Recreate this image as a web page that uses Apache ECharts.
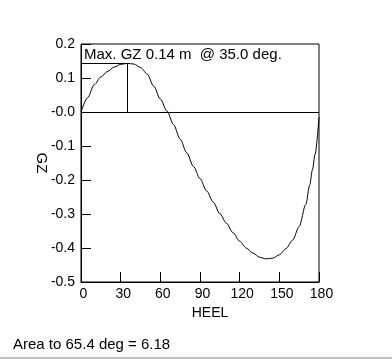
<!DOCTYPE html>
<html><head><meta charset="utf-8">
<script src="https://cdn.jsdelivr.net/npm/echarts@6/dist/echarts.min.js"></script>
<style>html,body{margin:0;padding:0;background:#fff}#c{width:392px;height:359px}</style>
</head><body><div id="c"></div>
<script>
var heel = [0,5,10,15,20,25,30,35,40,45,50,55,60,65,70,75,80,85,90,95,100,105,110,115,120,125,130,135,140,145,150,155,160,165,170,173,175,177,180];
var gz = [0,0.042,0.080,0.103,0.119,0.132,0.140,0.143,0.141,0.131,0.112,0.076,0.038,0.003,-0.037,-0.080,-0.120,-0.160,-0.196,-0.232,-0.265,-0.299,-0.327,-0.355,-0.380,-0.400,-0.415,-0.427,-0.432,-0.430,-0.420,-0.402,-0.377,-0.337,-0.272,-0.215,-0.170,-0.125,-0.015];
var yTicks = [0.2,0.1,0.0,-0.1,-0.2,-0.3,-0.4,-0.5];
var xTicks = [0,30,60,90,120,150,180];
var maxGZ = 0.14, maxAngle = 35.0, areaAngle = 65.4, areaVal = 6.18;

var pts = heel.map(function(h,i){return [h,gz[i]];});
var mi = 0; gz.forEach(function(v,i){ if(v>gz[mi]) mi=i; });
var px = heel[mi], py = gz[mi];
var FONT = '"Liberation Sans", Arial, sans-serif';
var chart = echarts.init(document.getElementById('c'), null, {renderer:'canvas'});
chart.setOption({
  animation:false,
  backgroundColor:'#fff',
  title:{text:'Max. GZ ' + maxGZ.toFixed(2) + ' m  @ ' + maxAngle.toFixed(1) + ' deg.', left:84, top:47, padding:0,
    textStyle:{fontFamily:FONT, fontSize:15, fontWeight:'normal', color:'#000'}},
  grid:{left:81, right:73, top:44, bottom:77, show:true, borderColor:'#000', borderWidth:1, containLabel:false},
  xAxis:{type:'value', min:0, max:180, interval:30,
    name:'HEEL', nameLocation:'middle', nameGap:22,
    nameTextStyle:{fontFamily:FONT, fontSize:14, color:'#000', padding:[0,0,0,20]},
    axisLine:{show:true, onZero:false, lineStyle:{color:'#000', width:1}},
    axisTick:{show:true, inside:true, length:10, lineStyle:{color:'#000'}},
    axisLabel:{fontFamily:FONT, fontSize:14, color:'#000', margin:5, padding:[0,0,0,5],
      formatter:function(v){return xTicks.indexOf(v)>=0 ? String(v) : '';}},
    splitLine:{show:false}},
  yAxis:{type:'value', min:-0.5, max:0.2, interval:0.1,
    name:'GZ', nameLocation:'middle', nameGap:28, nameRotate:-90, nameMoveOverlap:false,
    nameTextStyle:{fontFamily:FONT, fontSize:15, color:'#000', padding:[4,0,0,0]},
    axisLine:{show:true, onZero:false, lineStyle:{color:'#000', width:1}},
    axisTick:{show:true, inside:true, length:10, lineStyle:{color:'#000'}},
    axisLabel:{fontFamily:FONT, fontSize:14, color:'#000', margin:6,
      formatter:function(v){
        var r = Math.round(v*10)/10;
        var t = yTicks.filter(function(k){return Math.abs(k-r)<1e-6;});
        if(!t.length) return '';
        if(Math.abs(r)<1e-9) return '-0.0';
        return r.toFixed(1);
      }},
    splitLine:{show:false}},
  graphic:[
    {type:'text', left:13, top:337, style:{text:'Area to ' + areaAngle.toFixed(1) + ' deg = ' + areaVal.toFixed(2), fontFamily:FONT, fontSize:15, fill:'#000'}},
    {type:'rect', left:0, top:357, shape:{width:392, height:2}, style:{fill:'#c0c0c0'}}
  ],
  series:[{
    type:'line', data:pts, smooth:0.3, smoothMonotone:'x', showSymbol:false, symbol:'none',
    lineStyle:{color:'#000', width:1},
    markLine:{silent:true, symbol:'none', label:{show:false}, animation:false,
      lineStyle:{color:'#000', width:1, type:'solid'},
      data:[
        {yAxis:0},
        [{coord:[0,py]},{coord:[px,py]}],
        [{coord:[px,py]},{coord:[px,0]}]
      ]}
  }]
});
</script></body></html>
